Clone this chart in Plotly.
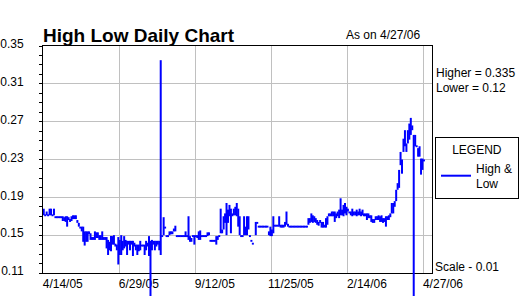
import plotly.graph_objects as go

# ---- data (trading-day index -> daily high / low) ----
high = [
    0.178, 0.172, 0.175, 0.172, 0.178, 0.178, 0.172, 0.178, 0.170, 0.170,
    0.170, 0.170, 0.170, 0.170, 0.169, 0.170, 0.170, 0.169, 0.167, 0.170,
    0.171, 0.171, 0.171, 0.166, 0.163, 0.159, 0.159, 0.159, 0.154, 0.154,
    0.154, 0.154, 0.152, 0.148, 0.148, 0.154, 0.153, 0.153, 0.150, 0.150,
    0.154, 0.148, 0.148, 0.148, 0.145, 0.143, 0.149, 0.149, 0.150, 0.141,
    0.140, 0.148, 0.145, 0.150, 0.144, 0.149, 0.145, 0.144, 0.144, 0.144,
    0.144, 0.144, 0.142, 0.140, 0.140, 0.140, 0.144, 0.140, 0.140, 0.140,
    0.144, 0.142, 0.149, 0.144, 0.145, 0.144, 0.144, 0.144, 0.144, 0.144,
    0.335, 0.150, 0.169, 0.159, 0.150, 0.150, 0.154, 0.154, 0.154, 0.157,
    0.160, 0.150, 0.150, 0.150, 0.150, 0.150, 0.150, 0.154, 0.150, 0.170,
    0.149, 0.147, 0.150, 0.150, 0.150, 0.150, 0.154, 0.155, 0.150, 0.150,
    0.150, 0.150, 0.153, 0.153, 0.145, 0.145, 0.145, 0.145, 0.149, 0.149,
    0.150, 0.178, 0.156, 0.170, 0.173, 0.184, 0.177, 0.182, 0.178, 0.173,
    0.178, 0.180, 0.184, 0.178, 0.170, 0.150, 0.150, 0.170, 0.159, 0.170,
    0.170, 0.150, 0.145, 0.142, None, 0.164, 0.164, 0.160, 0.160, 0.160,
    0.160, 0.160, 0.160, 0.160, 0.154, 0.159, 0.156, 0.170, 0.161, 0.161,
    0.161, 0.170, 0.161, 0.161, 0.161, 0.164, 0.175, 0.162, 0.160, 0.160,
    0.160, 0.160, 0.160, 0.160, 0.160, 0.160, 0.160, 0.160, 0.160, 0.160,
    0.160, 0.168, 0.168, 0.173, 0.171, 0.170, 0.168, 0.166, 0.164, 0.166,
    0.164, 0.164, 0.161, 0.168, 0.170, 0.173, 0.173, 0.175, 0.175, 0.175,
    0.173, 0.175, 0.177, 0.189, 0.177, 0.182, 0.184, 0.180, 0.178, 0.175,
    0.175, 0.178, 0.175, 0.175, 0.177, 0.175, 0.178, 0.175, 0.177, 0.173,
    0.173, 0.173, 0.173, 0.171, 0.171, 0.167, 0.167, 0.170, 0.170, 0.171,
    0.170, 0.171, 0.168, 0.168, 0.170, 0.170, 0.171, 0.173, 0.184, 0.184,
    0.186, 0.198, 0.205, 0.219, 0.238, 0.230, 0.252, 0.261, 0.247, 0.261,
    0.268, 0.274, 0.266, 0.256, 0.256, 0.245, 0.242, 0.244, 0.231, 0.231,
    0.230,
]
low = [
    0.171, 0.170, 0.171, 0.170, 0.171, 0.171, 0.170, 0.171, 0.168, 0.168,
    0.168, 0.168, 0.168, 0.165, 0.165, 0.164, 0.159, 0.166, 0.164, 0.165,
    0.167, 0.167, 0.167, 0.163, 0.159, 0.157, 0.154, 0.143, 0.139, 0.143,
    0.143, 0.151, 0.145, 0.145, 0.145, 0.145, 0.147, 0.147, 0.145, 0.145,
    0.145, 0.145, 0.145, 0.136, 0.129, 0.134, 0.133, 0.140, 0.140, 0.138,
    0.134, 0.119, 0.129, 0.129, 0.134, 0.136, 0.138, 0.129, 0.140, 0.134,
    0.140, 0.128, 0.138, 0.134, 0.129, 0.133, 0.134, 0.138, 0.138, 0.129,
    0.134, 0.138, 0.128, 0.000, 0.134, 0.140, 0.134, 0.138, 0.140, 0.134,
    0.129, 0.148, 0.150, 0.157, 0.148, 0.148, 0.150, 0.151, 0.151, 0.154,
    0.154, 0.148, 0.148, 0.148, 0.148, 0.148, 0.148, 0.148, 0.148, 0.145,
    0.143, 0.143, 0.148, 0.140, 0.148, 0.147, 0.145, 0.145, 0.148, 0.148,
    0.148, 0.148, 0.149, 0.150, 0.143, 0.143, 0.143, 0.143, 0.140, 0.145,
    0.148, 0.152, 0.152, 0.156, 0.163, 0.150, 0.163, 0.170, 0.152, 0.170,
    0.171, 0.171, 0.170, 0.159, 0.150, 0.148, 0.148, 0.150, 0.150, 0.150,
    0.156, 0.148, 0.143, 0.140, None, 0.150, 0.162, 0.158, 0.158, 0.158,
    0.158, 0.158, 0.158, 0.158, 0.150, 0.149, 0.149, 0.152, 0.159, 0.159,
    0.159, 0.159, 0.158, 0.158, 0.158, 0.159, 0.161, 0.159, 0.158, 0.158,
    0.158, 0.158, 0.158, 0.158, 0.158, 0.158, 0.158, 0.158, 0.158, 0.158,
    0.158, 0.161, 0.163, 0.164, 0.163, 0.164, 0.163, 0.161, 0.160, 0.163,
    0.158, 0.158, 0.158, 0.158, 0.161, 0.170, 0.170, 0.170, 0.170, 0.164,
    0.168, 0.170, 0.168, 0.171, 0.171, 0.170, 0.173, 0.171, 0.175, 0.173,
    0.171, 0.170, 0.171, 0.171, 0.170, 0.171, 0.171, 0.170, 0.171, 0.170,
    0.170, 0.166, 0.168, 0.168, 0.164, 0.163, 0.163, 0.166, 0.166, 0.166,
    0.164, 0.164, 0.163, 0.164, 0.159, 0.166, 0.166, 0.169, 0.173, 0.173,
    0.180, 0.186, 0.198, 0.200, 0.224, 0.215, 0.238, 0.244, 0.238, 0.247,
    0.251, 0.256, 0.261, 0.000, 0.244, 0.243, 0.233, 0.233, 0.214, 0.219,
    0.228,
]
tick_days = [0, 52, 104, 156, 208, 260]
tick_labels = ["4/14/05", "6/29/05", "9/12/05", "11/25/05", "2/14/06", "4/27/06"]
y_ticks = [0.11, 0.15, 0.19, 0.23, 0.27, 0.31, 0.35]
y_tick_labels = ["0.11", "0.15", "0.19", "0.23", "0.27", "0.31", "0.35"]

# ---- build vertical high-low segments ----
xs, ys = [], []
for i, (h, l) in enumerate(zip(high, low)):
    if h is None or l is None:
        continue
    xs += [i, i, None]
    ys += [l, h, None]

W, H = 519, 296
ML, MR, MT, MB = 43, 85, 46, 0
plot_h = H - MT - MB
plot_w = W - ML - MR
y_dom0 = 23 / plot_h
ymin, ymax = 0.11, 0.35
xmin, xmax = -0.5, 265.5
# overlay axis shares the value scale but reaches the figure's bottom edge,
# so out-of-range lows run past the axis line like in the original
y2min = ymin - (ymax - ymin) * y_dom0 / (1 - y_dom0)

FONT = "Liberation Sans, Arial, sans-serif"

fig = go.Figure()
# empty trace so the main (gridded) subplot exists
fig.add_trace(go.Scatter(x=[None], y=[None], xaxis="x", yaxis="y",
                         mode="lines", showlegend=False, hoverinfo="skip"))
fig.add_trace(go.Scatter(
    x=xs, y=ys, mode="lines", xaxis="x2", yaxis="y2",
    line=dict(color="#0000FF", width=2),
    name="High &<br>Low", showlegend=True, hoverinfo="skip",
))

fig.update_layout(
    width=W, height=H,
    margin=dict(l=ML, r=MR, t=MT, b=MB, pad=0),
    paper_bgcolor="white",
    plot_bgcolor="rgba(0,0,0,0)",
    font=dict(family=FONT, size=12, color="black"),
    title=dict(text="<b>High Low Daily Chart</b>", x=43 / W, xanchor="left",
               y=1 - 35 / H, yanchor="middle",
               font=dict(family=FONT, size=19, color="black")),
    xaxis=dict(range=[xmin, xmax], tickmode="array", tickvals=tick_days,
               ticktext=tick_labels, showgrid=True, gridcolor="#c0c0c0",
               gridwidth=1, showline=True, linecolor="black", linewidth=1,
               mirror=True, ticks="", zeroline=False, anchor="y",
               ticklabelshift=19, tickfont=dict(size=12), automargin=False),
    yaxis=dict(domain=[y_dom0, 1], range=[ymin, ymax], tickmode="array",
               tickvals=y_ticks, ticktext=y_tick_labels, showgrid=True,
               gridcolor="#c0c0c0", gridwidth=1, showline=True,
               linecolor="black", linewidth=1, mirror=True, ticks="outside",
               ticklen=3, tickcolor="black", zeroline=False, anchor="x",
               ticklabelstandoff=13, ticklabelshift=-2,
               minor=dict(tickmode="linear", tick0=0.11, dtick=0.01,
                          ticks="outside", ticklen=3, tickcolor="black",
                          showgrid=False),
               tickfont=dict(size=12), automargin=False),
    xaxis2=dict(range=[xmin, xmax], visible=False, anchor="y2",
                showgrid=False, zeroline=False),
    yaxis2=dict(domain=[0, 1], range=[y2min, ymax], visible=False,
                anchor="x2", showgrid=False, zeroline=False),
    showlegend=True,
    legend=dict(x=(437 - ML) / plot_w, xanchor="left",
                y=(H - MB - 137) / plot_h, yanchor="top",
                bordercolor="black", borderwidth=1, bgcolor="white",
                font=dict(family=FONT, size=12),
                title=dict(text="LEGEND", side="top center",
                           font=dict(family=FONT, size=12)),
                itemwidth=30),
    hovermode=False,
)

ann = [
    dict(text="As on 4/27/06", x=(424 - ML) / plot_w, y=(H - MB - 35) / plot_h,
         xanchor="right", yanchor="middle", font=dict(size=12)),
    dict(text="Higher = 0.335", x=(436 - ML) / plot_w, y=(H - MB - 73) / plot_h,
         xanchor="left", yanchor="middle", font=dict(size=12)),
    dict(text="Lower = 0.12", x=(436 - ML) / plot_w, y=(H - MB - 88) / plot_h,
         xanchor="left", yanchor="middle", font=dict(size=12)),
    dict(text="Scale - 0.01", x=(435 - ML) / plot_w, y=(H - MB - 267) / plot_h,
         xanchor="left", yanchor="middle", font=dict(size=12)),
]
for a in ann:
    a.update(xref="paper", yref="paper", showarrow=False)
fig.update_layout(annotations=ann)

fig.write_html("out.html", config={"displayModeBar": False})
